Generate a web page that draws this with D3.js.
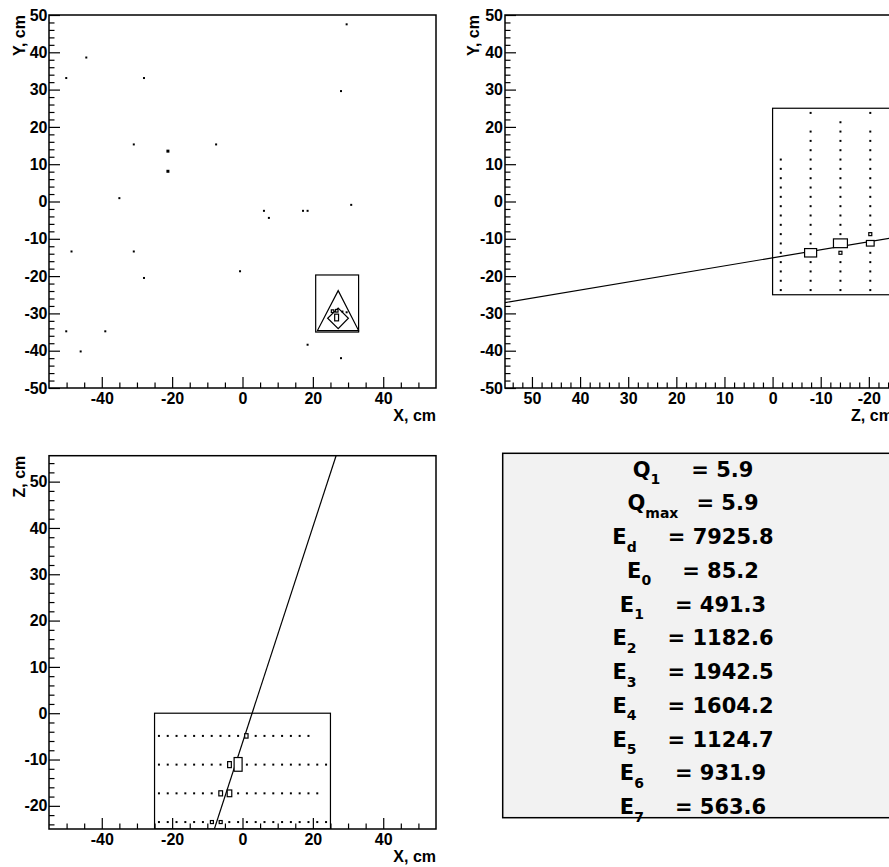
<!DOCTYPE html>
<html><head><meta charset="utf-8">
<script src="https://cdn.jsdelivr.net/npm/d3@7"></script>
<style>
body{margin:0;background:#fff}
svg text{font-family:"Liberation Sans",Arial,sans-serif;font-weight:bold}
svg text.panel{font-family:"DejaVu Sans",sans-serif;font-weight:bold}
</style></head><body>
<svg id="c" width="889" height="867"></svg>
<script>
// ---------- axis ranges & ticks ----------
const xRange = [-55, 55];
const yRange = [-50, 50];
const zRange = [-25, 55.6];
const xMajorTicks = [-40, -20, 0, 20, 40];
const yMajorTicks = [-50, -40, -30, -20, -10, 0, 10, 20, 30, 40, 50];
const zMajorTicks = [-20, -10, 0, 10, 20, 30, 40, 50];

// ---------- XY view: scattered hits ----------
const xyHitX = [29.6, -44.4, -50.1, -28.0, 28.0, -30.9, -21.2, -7.5, -21.2, -35.0, 30.9, 6.1, 7.5, 17.2, 18.5, -48.6, -30.9, -0.7, -28.0, -50.1, -39.0, -46.0, 18.5, 28.0];
const xyHitY = [47.5, 38.6, 33.1, 33.1, 29.6, 15.3, 13.5, 15.3, 8.1, 0.9, -0.9, -2.5, -4.4, -2.5, -2.5, -13.4, -13.4, -18.7, -20.5, -34.8, -34.8, -40.2, -38.4, -42.0];
const xyHitSize = [2, 2, 2, 2, 2, 2, 3, 2, 3, 2, 2, 2, 2, 2, 2, 2, 2, 2, 2, 2, 2, 2, 2, 2];
// XY inset (cluster outline)
const insetBox = [20.8, -35.0, 33.0, -19.7];           // x0, y0, x1, y1
const insetTriangle = [[27.2, -23.9], [21.3, -34.6], [33.0, -34.6]];
const insetDiamond = [[27.2, -28.6], [30.1, -31.3], [27.2, -34.1], [24.2, -31.3]];
const insetCells = [[25.6, -29.4, 0.7, 0.7], [26.8, -29.3, 0.7, 0.7], [26.75, -31.1, 1.1, 1.8]]; // cx, cy, w, h
const insetDotX = [28.4, 29.6];
const insetDotY = [-29.5, -29.7];

// ---------- ZY view ----------
const zyLayerZ = [-1.7, -7.9, -14.1, -20.3];
const zyStripY = [
  [-23.75, -21.25, -18.75, -16.25, -13.75, -11.25, -8.75, -6.25, -3.75, -1.25, 1.25, 3.75, 6.25, 8.75, 11.25],
  [-23.75, -21.25, -18.75, -16.25, -13.75, -11.25, -8.75, -6.25, -3.75, -1.25, 1.25, 3.75, 6.25, 8.75, 11.25, 13.75, 16.25, 18.75, 23.75],
  [-23.75, -21.25, -18.75, -16.25, -13.75, -11.25, -8.75, -6.25, -3.75, -1.25, 1.25, 3.75, 6.25, 8.75, 11.25, 13.75, 16.25, 18.75, 21.25],
  [-23.75, -21.25, -18.75, -16.25, -13.75, -11.25, -8.75, -6.25, -3.75, -1.25, 1.25, 3.75, 6.25, 8.75, 11.25, 13.75, 16.25, 18.75, 23.75]
];
const zyDetector = [0, -25, -25, 25];                    // z0, y0, z1, y1
const zyCellZ = [-7.9, -14.1, -20.3];
const zyCellY = [-13.75, -11.2, -11.2];
const zyCellW = [2.5, 2.9, 1.6];
const zyCellH = [2.25, 2.35, 1.5];
const zyMarkZ = [-14.1, -20.3];
const zyMarkY = [-13.75, -8.75];
const zyTrack = [[55.6, -27.1], [-25, -9.7]];

// ---------- XZ view ----------
const xzLayerZ = [-4.9, -11.1, -17.3, -23.5];
const xzStripX = [
  [-23.75, -21.25, -18.75, -16.25, -13.75, -11.25, -8.75, -6.25, -3.75, -1.25, 1.25, 3.75, 6.25, 8.75, 11.25, 13.75, 16.25, 18.75],
  [-23.75, -21.25, -18.75, -16.25, -13.75, -11.25, -8.75, -6.25, -3.75, -1.25, 1.25, 3.75, 6.25, 8.75, 11.25, 13.75, 16.25, 18.75, 21.25, 23.75],
  [-23.75, -21.25, -18.75, -16.25, -13.75, -11.25, -8.75, -6.25, -3.75, -1.25, 1.25, 3.75, 6.25, 8.75, 11.25, 13.75, 16.25, 18.75, 21.25],
  [-23.75, -21.25, -18.75, -16.25, -13.75, -11.25, -8.75, -6.25, -3.75, -1.25, 1.25, 3.75, 6.25, 8.75, 11.25, 13.75, 16.25, 18.75, 21.25, 23.75]
];
const xzDetector = [-25, -25, 25, 0];                   // x0, z0, x1, z1
const xzCellX = [1.1, -1.25, -3.7, -3.7, -6.2];
const xzCellZ = [-4.9, -11.05, -11.1, -17.3, -17.3];
const xzCellW = [0.95, 2.27, 1.05, 1.3, 1.05];
const xzCellH = [0.95, 2.96, 1.3, 1.45, 1.1];
const xzMarkX = [-8.7, -6.2];
const xzMarkZ = [-23.5, -23.5];
const xzTrack = [[26.6, 55.6], [-8.0, -25]];

// ---------- summary panel ----------
const panelMain = ['Q', 'Q', 'E', 'E', 'E', 'E', 'E', 'E', 'E', 'E', 'E'];
const panelSub = ['1', 'max', 'd', '0', '1', '2', '3', '4', '5', '6', '7'];
const panelValues = ['5.9', '5.9', '7925.8', '85.2', '491.3', '1182.6', '1942.5', '1604.2', '1124.7', '931.9', '563.6'];

// =====================================================
const svg = d3.select('#c');
const fmt = d => String(d);

function makePad(id, fr, sx, sy, ticks, titles) {
  const g = svg.append('g');
  g.append('clipPath').attr('id', id).append('rect')
    .attr('x', fr.x0).attr('y', fr.y0).attr('width', fr.x1 - fr.x0).attr('height', fr.y1 - fr.y0);
  const content = g.append('g').attr('clip-path', `url(#${id})`);
  const axes = g.append('g');
  const style = s => {
    s.select('.domain').remove();
    s.attr('font-size', 16).attr('font-family', '"Liberation Sans", Arial, sans-serif')
     .attr('font-weight', 'bold').attr('color', '#000');
    s.selectAll('line').attr('stroke-width', 1.2);
  };
  axes.append('g').attr('transform', `translate(0,${fr.y1})`)
    .call(d3.axisBottom(sx).tickValues(ticks.xMinor).tickSize(-5.5).tickFormat('')).call(style);
  axes.append('g').attr('transform', `translate(0,${fr.y1})`)
    .call(d3.axisBottom(sx).tickValues(ticks.xMajor).tickSize(-11).tickPadding(5).tickFormat(fmt)).call(style);
  axes.append('g').attr('transform', `translate(${fr.x0},0)`)
    .call(d3.axisLeft(sy).tickValues(ticks.yMinor).tickSize(-5.5).tickFormat('')).call(style);
  axes.append('g').attr('transform', `translate(${fr.x0},0)`)
    .call(d3.axisLeft(sy).tickValues(ticks.yMajor).tickSize(-11).tickPadding(ticks.yPad).tickFormat(fmt)).call(style);
  g.append('rect').attr('x', fr.x0).attr('y', fr.y0).attr('width', fr.x1 - fr.x0).attr('height', fr.y1 - fr.y0)
    .attr('fill', 'none').attr('stroke', '#000').attr('stroke-width', 1.5);
  g.append('text').attr('x', fr.x1).attr('y', fr.y1 + 33).attr('text-anchor', 'end')
    .attr('font-size', 16).text(titles[0]);
  g.append('text').attr('transform', `translate(${ticks.titleX},${fr.y0}) rotate(-90)`)
    .attr('text-anchor', 'end').attr('font-size', 16).text(titles[1]);
  return content;
}

function dots(g, xs, ys, sx, sy, size) {
  g.selectAll(null).data(xs.map((v, i) => [v, ys[i], Array.isArray(size) ? size[i] : size])).enter()
    .append('rect')
    .attr('x', d => sx(d[0]) - d[2] / 2).attr('y', d => sy(d[1]) - d[2] / 2)
    .attr('width', d => d[2]).attr('height', d => d[2]).attr('fill', '#000');
}
function cells(g, cx, cy, w, h, sx, sy) {
  g.selectAll(null).data(cx.map((v, i) => [v, cy[i], w[i], h[i]])).enter().append('rect')
    .attr('x', d => Math.min(sx(d[0] - d[2] / 2), sx(d[0] + d[2] / 2)))
    .attr('y', d => Math.min(sy(d[1] - d[3] / 2), sy(d[1] + d[3] / 2)))
    .attr('width', d => Math.abs(sx(d[0] + d[2] / 2) - sx(d[0] - d[2] / 2)))
    .attr('height', d => Math.abs(sy(d[1] + d[3] / 2) - sy(d[1] - d[3] / 2)))
    .attr('fill', '#fff').attr('stroke', '#000').attr('stroke-width', 1.2);
}
function marks(g, xs, ys, sx, sy) {
  g.selectAll(null).data(xs.map((v, i) => [v, ys[i]])).enter().append('rect')
    .attr('x', d => sx(d[0]) - 1.5).attr('y', d => sy(d[1]) - 1.5)
    .attr('width', 3).attr('height', 3).attr('fill', '#fff').attr('stroke', '#000').attr('stroke-width', 1.2);
}
function box(g, b, sx, sy) {
  g.append('rect')
    .attr('x', Math.min(sx(b[0]), sx(b[2]))).attr('y', Math.min(sy(b[1]), sy(b[3])))
    .attr('width', Math.abs(sx(b[2]) - sx(b[0]))).attr('height', Math.abs(sy(b[3]) - sy(b[1])))
    .attr('fill', 'none').attr('stroke', '#000').attr('stroke-width', 1.2);
}
const lineGen = (sx, sy) => d3.line().x(d => sx(d[0])).y(d => sy(d[1]));

// ---------- pad 1: XY ----------
const fr1 = {x0: 49, x1: 436, y0: 15, y1: 388};
const x1s = d3.scaleLinear().domain(xRange).range([fr1.x0, fr1.x1]);
const y1s = d3.scaleLinear().domain(yRange).range([fr1.y1, fr1.y0]);
const xMinor = d3.range(-50, 51, 5).filter(v => !xMajorTicks.includes(v));
const yMinor = d3.range(-50, 51, 2).filter(v => !yMajorTicks.includes(v));
const zMinor = d3.range(-24, 56, 2).filter(v => !zMajorTicks.includes(v));

const p1 = makePad('c1', fr1, x1s, y1s,
  {xMajor: xMajorTicks, xMinor: xMinor, yMajor: yMajorTicks, yMinor: yMinor, yPad: 1.5, titleX: 25},
  ['X, cm', 'Y, cm']);
dots(p1, xyHitX, xyHitY, x1s, y1s, xyHitSize);
box(p1, insetBox, x1s, y1s);
p1.append('path').attr('d', lineGen(x1s, y1s)(insetTriangle) + 'Z')
  .attr('fill', 'none').attr('stroke', '#000').attr('stroke-width', 1.2);
p1.append('path').attr('d', lineGen(x1s, y1s)(insetDiamond) + 'Z')
  .attr('fill', 'none').attr('stroke', '#000').attr('stroke-width', 1.2);
cells(p1, insetCells.map(d => d[0]), insetCells.map(d => d[1]), insetCells.map(d => d[2]), insetCells.map(d => d[3]), x1s, y1s);
dots(p1, insetDotX, insetDotY, x1s, y1s, 2);

// ---------- pad 2: ZY ----------
const fr2 = {x0: 505, x1: 892.9, y0: 15, y1: 388};
const z2s = d3.scaleLinear().domain([zRange[1], zRange[0]]).range([fr2.x0, fr2.x1]);
const y2s = d3.scaleLinear().domain(yRange).range([fr2.y1, fr2.y0]);
const p2 = makePad('c2', fr2, z2s, y2s,
  {xMajor: zMajorTicks, xMinor: zMinor, yMajor: yMajorTicks, yMinor: yMinor, yPad: 2, titleX: 479},
  ['Z, cm', 'Y, cm']);
box(p2, zyDetector, z2s, y2s);
zyLayerZ.forEach((z, i) => dots(p2, zyStripY[i].map(() => z), zyStripY[i], z2s, y2s, 2));
p2.append('path').attr('d', lineGen(z2s, y2s)(zyTrack))
  .attr('fill', 'none').attr('stroke', '#000').attr('stroke-width', 1.2);
cells(p2, zyCellZ, zyCellY, zyCellW, zyCellH, z2s, y2s);
marks(p2, zyMarkZ, zyMarkY, z2s, y2s);

// ---------- pad 3: XZ ----------
const fr3 = {x0: 49, x1: 436, y0: 455.7, y1: 829};
const x3s = d3.scaleLinear().domain(xRange).range([fr3.x0, fr3.x1]);
const z3s = d3.scaleLinear().domain(zRange).range([fr3.y1, fr3.y0]);
const p3 = makePad('c3', fr3, x3s, z3s,
  {xMajor: xMajorTicks, xMinor: xMinor, yMajor: zMajorTicks, yMinor: zMinor, yPad: 1.5, titleX: 25},
  ['X, cm', 'Z, cm']);
box(p3, xzDetector, x3s, z3s);
xzLayerZ.forEach((z, i) => dots(p3, xzStripX[i], xzStripX[i].map(() => z), x3s, z3s, 2));
p3.append('path').attr('d', lineGen(x3s, z3s)(xzTrack))
  .attr('fill', 'none').attr('stroke', '#000').attr('stroke-width', 1.2);
cells(p3, xzCellX, xzCellZ, xzCellW, xzCellH, x3s, z3s);
marks(p3, xzMarkX, xzMarkZ, x3s, z3s);

// ---------- pad 4: summary ----------
const pv = svg.append('g');
pv.append('rect').attr('x', 502.7).attr('y', 453.3).attr('width', 420).attr('height', 364.4)
  .attr('fill', '#f2f2f2').attr('stroke', '#000').attr('stroke-width', 1.5);
const lineY = d3.scaleLinear().domain([0, panelMain.length - 1]).range([476.5, 814]);
panelMain.forEach((m, i) => {
  const t = pv.append('text').attr('class', 'panel').attr('x', 693).attr('y', lineY(i)).attr('text-anchor', 'middle')
    .attr('font-size', 21).attr('fill', '#000');
  t.append('tspan').text(m);
  t.append('tspan').attr('font-size', 14).attr('dy', 7.5).text(panelSub[i]);
  t.append('tspan').attr('dy', -7.5).attr('dx', panelSub[i].length > 1 ? 18 : 31).text('= ' + panelValues[i]);
});
</script>
</body></html>
